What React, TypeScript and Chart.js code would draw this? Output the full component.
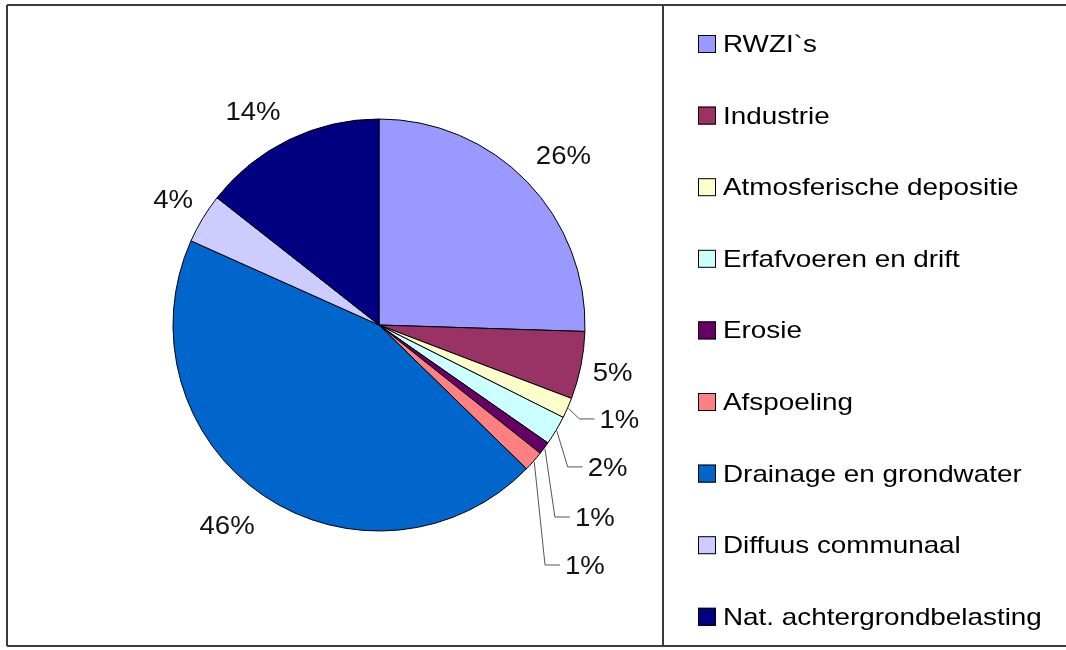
import React, { useEffect, useRef } from "react";
import { Chart, registerables } from "chart.js";

Chart.register(...registerables);

const categories = [
  "RWZI`s",
  "Industrie",
  "Atmosferische depositie",
  "Erfafvoeren en drift",
  "Erosie",
  "Afspoeling",
  "Drainage en grondwater",
  "Diffuus communaal",
  "Nat. achtergrondbelasting",
];
const shares = [25.5, 5.3, 1.6, 2.3, 1.0, 1.6, 44.4, 3.9, 14.4];
const percentLabels = ["26%", "5%", "1%", "2%", "1%", "1%", "46%", "4%", "14%"];
const colors = [
  "#9999FF",
  "#993366",
  "#FFFFCC",
  "#CCFFFF",
  "#660066",
  "#FF8080",
  "#0066CC",
  "#CCCCFF",
  "#000080",
];

// callout placement for the thin slices (label left edge / centre, in radius units from pie centre)
const calloutLayout: Record<number, [number, number]> = {
  2: [1.07, 0.456],
  3: [1.013, 0.689],
  4: [0.951, 0.932],
  5: [0.903, 1.165],
};
// small pixel nudges for the outside labels (layout only)
const labelNudge: Record<number, [number, number]> = {
  0: [6, 2],
  1: [-5, -1],
  6: [-14, -3],
  7: [3, 0],
  8: [-20, 4],
};

const FONT = "'Liberation Sans', Arial, sans-serif";

const framePlugin = {
  id: "frame",
  beforeDraw(chart: any) {
    const ctx = chart.ctx;
    ctx.save();
    ctx.fillStyle = "#ffffff";
    ctx.fillRect(0, 0, chart.width, chart.height);
    ctx.strokeStyle = "#3c3c3c";
    ctx.lineWidth = 2;
    ctx.beginPath();
    ctx.moveTo(7, 5);
    ctx.lineTo(1066, 5);
    ctx.moveTo(7, 5);
    ctx.lineTo(7, 646);
    ctx.moveTo(7, 646);
    ctx.lineTo(1066, 646);
    ctx.moveTo(663, 5);
    ctx.lineTo(663, 646);
    ctx.stroke();
    ctx.restore();
  },
};

const labelPlugin = {
  id: "pctLabels",
  afterDatasetsDraw(chart: any) {
    const ctx = chart.ctx;
    const meta = chart.getDatasetMeta(0);
    ctx.save();
    ctx.font = `26px ${FONT}`;
    ctx.fillStyle = "#111111";
    ctx.textBaseline = "alphabetic";
    const sx = 1.06;
    const capH = 19;
    meta.data.forEach((arc: any, i: number) => {
      const { x, y, startAngle, endAngle, outerRadius } = arc.getProps(
        ["x", "y", "startAngle", "endAngle", "outerRadius"],
        true
      );
      const mid = (startAngle + endAngle) / 2;
      const cos = Math.cos(mid);
      const sin = Math.sin(mid);
      const text = percentLabels[i];
      const w = ctx.measureText(text).width * sx;
      if (calloutLayout[i]) {
        const [lx, ly] = calloutLayout[i];
        const left = x + lx * outerRadius;
        const cy = y + ly * outerRadius;
        ctx.strokeStyle = "#555555";
        ctx.lineWidth = 1;
        ctx.beginPath();
        ctx.moveTo(x + cos * (outerRadius + 1), y + sin * (outerRadius + 1));
        ctx.lineTo(left - 20, cy);
        ctx.lineTo(left - 5, cy);
        ctx.stroke();
        ctx.save();
        ctx.translate(left, cy + capH / 2);
        ctx.scale(sx, 1);
        ctx.textAlign = "left";
        ctx.fillText(text, 0, 0);
        ctx.restore();
      } else {
        const d =
          outerRadius + 16 + Math.abs(cos) * (w / 2) + Math.abs(sin) * (capH / 2);
        const [nx, ny] = labelNudge[i] || [0, 0];
        const cx = x + cos * d + nx;
        const cy = y + sin * d + ny;
        ctx.save();
        ctx.translate(cx, cy + capH / 2);
        ctx.scale(sx, 1);
        ctx.textAlign = "center";
        ctx.fillText(text, 0, 0);
        ctx.restore();
      }
    });
    ctx.restore();
  },
};

const legendPlugin = {
  id: "sideLegend",
  afterDraw(chart: any) {
    const ctx = chart.ctx;
    ctx.save();
    const boxX = 698;
    const box = 18;
    const textX = 723;
    const firstY = 43.5;
    const step = 71.6;
    ctx.font = `24px ${FONT}`;
    categories.forEach((name, i) => {
      const cy = firstY + i * step;
      ctx.fillStyle = colors[i];
      ctx.fillRect(boxX, cy - box / 2 + 0.5, box, box);
      ctx.strokeStyle = "#000000";
      ctx.lineWidth = 1;
      ctx.strokeRect(boxX + 0.5, cy - box / 2 + 1, box - 1, box - 1);
      ctx.save();
      ctx.translate(textX, cy + 8.5);
      ctx.scale(1.16, 1);
      ctx.fillStyle = "#000000";
      ctx.textAlign = "left";
      ctx.textBaseline = "alphabetic";
      ctx.fillText(name, 0, 0);
      ctx.restore();
    });
    ctx.restore();
  },
};

export default function App() {
  const canvasRef = useRef<HTMLCanvasElement | null>(null);

  useEffect(() => {
    document.body.style.margin = "0";
    const canvas = canvasRef.current;
    if (!canvas) return;
    const chart = new Chart(canvas, {
      type: "pie",
      data: {
        labels: categories,
        datasets: [
          {
            data: shares,
            backgroundColor: colors,
            borderColor: "#000000",
            borderWidth: 1,
            radius: 206,
          } as any,
        ],
      },
      options: {
        responsive: false,
        animation: false,
        devicePixelRatio: 1,
        layout: { padding: { left: 169, right: 477, top: 115, bottom: 115 } },
        plugins: {
          legend: { display: false },
          tooltip: { enabled: false },
        },
      },
      plugins: [framePlugin, labelPlugin, legendPlugin],
    });
    return () => chart.destroy();
  }, []);

  return (
    <div style={{ position: "fixed", left: 0, top: 0, width: 1066, height: 650 }}>
      <canvas ref={canvasRef} width={1066} height={650} />
    </div>
  );
}
